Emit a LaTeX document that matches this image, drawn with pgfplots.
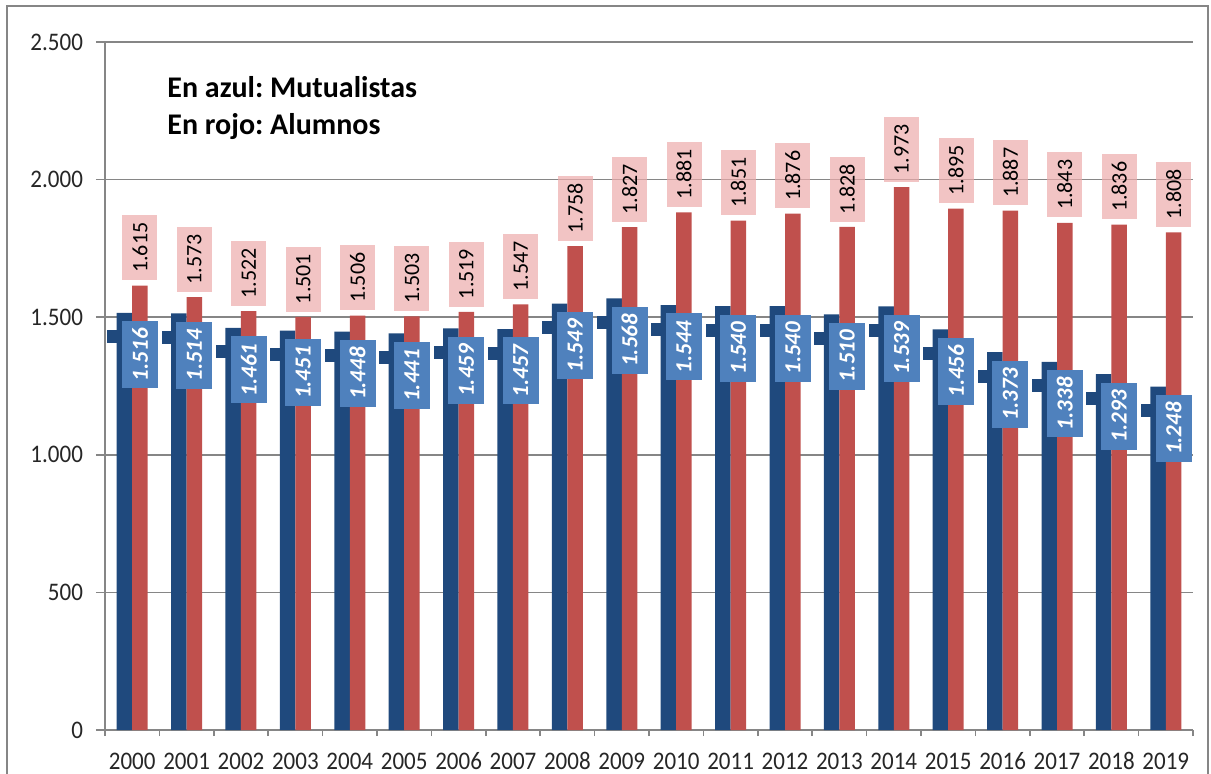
\documentclass[border=0pt]{standalone}
\usepackage{pgfplots}
\pgfplotsset{compat=1.18}
\usepackage{fontspec}
\setmainfont{Carlito}
\frenchspacing
\definecolor{barblue}{RGB}{31,73,125}
\definecolor{barred}{RGB}{192,80,77}
\definecolor{boxblue}{RGB}{79,129,189}
\definecolor{boxpink}{RGB}{236,171,171}
\definecolor{gridgray}{RGB}{134,134,134}
\begin{document}
\begin{tikzpicture}
\useasboundingbox (-52.5pt,-21.5pt) rectangle (553pt,365pt);
\draw[gridgray, line width=0.8pt] (-49pt,-40pt) -- (-49pt,362pt) -- (551.5pt,362pt) -- (551.5pt,-40pt);
\begin{axis}[
  anchor=south west, at={(0pt,0pt)},
  scale only axis, width=544pt, height=344pt,
  xmin=-0.5, xmax=19.5, ymin=0, ymax=2500,
  axis x line*=bottom, axis y line*=left,
  axis line style={gridgray, line width=0.8pt},
  xtick={0,...,19},
  xticklabels={2000,2001,2002,2003,2004,2005,2006,2007,2008,2009,2010,2011,2012,2013,2014,2015,2016,2017,2018,2019},
  major x tick style={draw=none},
  minor xtick={-0.5,0.5,...,19.5},
  minor x tick style={gridgray, line width=0.8pt},
  minor tick length=3pt,
  ytick={0,500,1000,1500,2000,2500},
  yticklabels={0,500,1.000,1.500,2.000,2.500},
  major tick length=4.5pt,
  y tick style={gridgray, line width=0.8pt},
  tick align=outside,
  ymajorgrids, grid style={gridgray, line width=0.8pt},
  tick label style={font=\fontsize{11.5}{13}\selectfont, text=black!85},
  xticklabel style={text height=8pt, text depth=0pt, yshift=-2.5pt, yscale=1.1},
  yticklabel style={xshift=-3pt, yscale=1.1},
  /pgf/number format/.cd, 1000 sep={.}, assume math mode=true,
]
% blue bars
\addplot[ybar, bar width=7.75pt, bar shift=-3.875pt, fill=barblue, draw=none] coordinates {
(0,1516)(1,1514)(2,1461)(3,1451)(4,1448)(5,1441)(6,1459)(7,1457)(8,1549)(9,1568)
(10,1544)(11,1540)(12,1540)(13,1510)(14,1539)(15,1456)(16,1373)(17,1338)(18,1293)(19,1248)};
% red bars
\addplot[ybar, bar width=7.75pt, bar shift=3.875pt, fill=barred, draw=none] coordinates {
(0,1615)(1,1573)(2,1522)(3,1501)(4,1506)(5,1503)(6,1519)(7,1547)(8,1758)(9,1827)
(10,1881)(11,1851)(12,1876)(13,1828)(14,1973)(15,1895)(16,1887)(17,1843)(18,1836)(19,1808)};
% dark segments behind blue labels
\addplot[ybar, bar width=7.75pt, bar shift=-3.875pt, draw=none, fill=none,
  nodes near coords={},
  every node near coord/.append style={xshift=-5.75pt, yshift=-12pt, anchor=center,
    fill=barblue, minimum width=13.5pt, minimum height=6.5pt, inner sep=0pt}] coordinates {
(0,1516)(1,1514)(2,1461)(3,1451)(4,1448)(5,1441)(6,1459)(7,1457)(8,1549)(9,1568)
(10,1544)(11,1540)(12,1540)(13,1510)(14,1539)(15,1456)(16,1373)(17,1338)(18,1293)(19,1248)};
% blue labels
\addplot[ybar, bar width=7.75pt, bar shift=-3.875pt, draw=none, fill=none,
  nodes near coords,
  every node near coord/.append style={xshift=3.9pt, yshift=-4pt, rotate=90, anchor=east,
    fill=boxblue, text=white, font=\fontsize{11.5}{13}\selectfont\bfseries\itshape,
    minimum width=33.5pt, minimum height=18pt, inner sep=0pt}] coordinates {
(0,1516)(1,1514)(2,1461)(3,1451)(4,1448)(5,1441)(6,1459)(7,1457)(8,1549)(9,1568)
(10,1544)(11,1540)(12,1540)(13,1510)(14,1539)(15,1456)(16,1373)(17,1338)(18,1293)(19,1248)};
% red labels
\addplot[ybar, bar width=7.75pt, bar shift=3.875pt, draw=none, fill=none,
  nodes near coords,
  every node near coord/.append style={xshift=3.9pt, yshift=2.5pt, rotate=90, anchor=west,
    fill=boxpink, fill opacity=0.7, text opacity=1, text=black, font=\fontsize{11}{13}\selectfont,
    minimum width=32.5pt, minimum height=17.5pt, inner sep=0pt}] coordinates {
(0,1615)(1,1573)(2,1522)(3,1501)(4,1506)(5,1503)(6,1519)(7,1547)(8,1758)(9,1827)
(10,1881)(11,1851)(12,1876)(13,1828)(14,1973)(15,1895)(16,1887)(17,1843)(18,1836)(19,1808)};
\node[anchor=base west, font=\fontsize{15}{18.5}\selectfont\bfseries, inner sep=0pt]
  at (rel axis cs:0.057,0.92) {En azul: Mutualistas};
\node[anchor=base west, font=\fontsize{15}{18.5}\selectfont\bfseries, inner sep=0pt]
  at (rel axis cs:0.057,0.866) {En rojo: Alumnos};
\end{axis}
\end{tikzpicture}
\end{document}
